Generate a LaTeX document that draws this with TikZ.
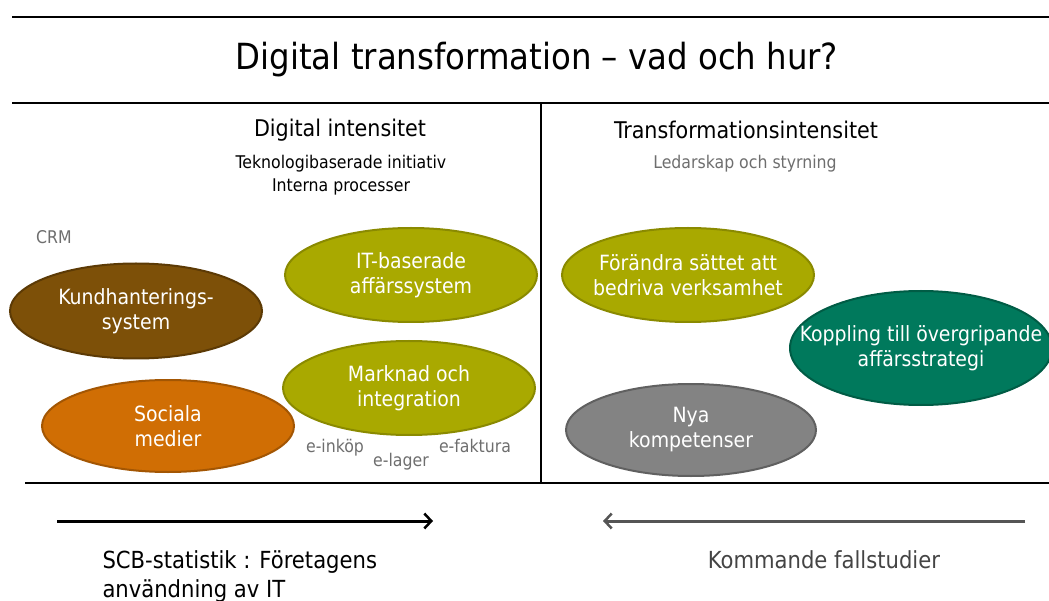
\documentclass[tikz,border=0pt]{standalone}
\usepackage{fontspec}
\setmainfont{DejaVu Sans Condensed}
\usetikzlibrary{shapes.geometric,arrows.meta}
\definecolor{olive}{HTML}{A9A900}
\definecolor{olivedark}{HTML}{8A8A00}
\definecolor{brownfill}{HTML}{7D5008}
\definecolor{browndark}{HTML}{5C3A05}
\definecolor{orangefill}{HTML}{D06E04}
\definecolor{orangedark}{HTML}{A35603}
\definecolor{tealfill}{HTML}{00795C}
\definecolor{tealdark}{HTML}{005C45}
\definecolor{grayfill}{HTML}{838383}
\definecolor{graydark}{HTML}{606060}
\definecolor{labelgray}{HTML}{6E6E6E}
\tikzset{
  bubble/.style={ellipse, draw, line width=2pt, inner sep=0pt},
  bubbletext/.style={align=center, text=white, inner sep=0pt,
    font=\fontsize{21}{25}\selectfont},
  rule/.style={line width=2pt, black},
  heading/.style={font=\fontsize{23}{27}\selectfont},
  sub/.style={font=\fontsize{17.5}{23}\selectfont, align=center},
  tag/.style={font=\fontsize{17.5}{20}\selectfont, text=labelgray},
  flow/.style={line width=3pt, -{Straight Barb[length=7pt,width=15pt,line width=2.5pt]}},
  caption/.style={font=\fontsize{23.5}{29}\selectfont, align=left}
}
\begin{document}
\begin{tikzpicture}[x=1pt,y=-1pt]
\useasboundingbox (0,0) rectangle (1049,601);

% frame lines
\draw[rule] (12,17) -- (1049,17);
\draw[rule] (12,103) -- (1049,103);
\draw[rule, line width=2.5pt] (25,483) -- (1049,483);
\draw[line width=1.5pt] (541,103) -- (541,483);

% title
\node[font=\fontsize{36}{40}\selectfont] (title) at (537,60) {Digital transformation – vad och hur?};

% left column
\node[heading] (dint) at (340,130) {Digital intensitet};
\node[sub] (dsub) at (341,175) {Teknologibaserade initiativ\\Interna processer};
\node[tag] (crm) at (54,237) {CRM};

\node[bubble, fill=olive, draw=olivedark, minimum width=252pt, minimum height=94pt] (itb) at (411,275) {};
\node[bubbletext] at (itb) {IT-baserade\\affärssystem};
\node[bubble, fill=brownfill, draw=browndark, minimum width=252pt, minimum height=95pt] (kund) at (136,311) {};
\node[bubbletext] at (kund) {Kundhanterings-\\system};
\node[bubble, fill=olive, draw=olivedark, minimum width=252pt, minimum height=94pt] (mark) at (409,388) {};
\node[bubbletext] at (mark) {Marknad och\\integration};
\node[bubble, fill=orangefill, draw=orangedark, minimum width=252pt, minimum height=92pt] (soc) at (168,426) {};
\node[bubbletext] at (soc) {Sociala\\medier};

\node[tag] (einkop) at (335,448) {e-inköp};
\node[tag] (elager) at (401,462) {e-lager};
\node[tag] (efakt) at (475,446) {e-faktura};

% right column
\node[heading] (tint) at (746,130) {Transformationsintensitet};
\node[sub, text=labelgray] (tsub) at (745,164) {Ledarskap och styrning};

\node[bubble, fill=olive, draw=olivedark, minimum width=252pt, minimum height=94pt] (forand) at (688,275) {};
\node[bubbletext] at (forand) {Förändra sättet att\\bedriva verksamhet};
\node[bubble, fill=tealfill, draw=tealdark, minimum width=262pt, minimum height=114pt] (kopp) at (921,348) {};
\node[bubbletext] at (kopp) {Koppling till övergripande\\affärsstrategi};
\node[bubble, fill=grayfill, draw=graydark, minimum width=250pt, minimum height=92pt] (nya) at (691,430) {};
\node[bubbletext] at (nya) {Nya\\kompetenser};

% direction arrows
\coordinate (a1s) at (57,521);
\coordinate (a1e) at (433,521);
\coordinate (a2s) at (1025,521);
\coordinate (a2e) at (603,521);
\draw[flow, black] (a1s) -- (a1e);
\draw[flow, draw={rgb,255:red,85;green,85;blue,85}] (a2s) -- (a2e);

\node[caption, anchor=north west] (scb) at (99,547) {SCB-statistik : Företagens\\användning av IT};
\node[caption, anchor=north, text={rgb,255:red,68;green,68;blue,68}] (komm) at (824,547) {Kommande fallstudier};
\end{tikzpicture}
\end{document}
